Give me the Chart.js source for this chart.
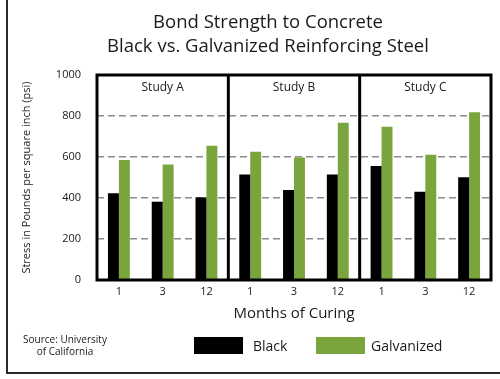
<!DOCTYPE html>
<html>
<head>
<meta charset="utf-8">
<script src="https://cdn.jsdelivr.net/npm/chart.js@4/dist/chart.umd.min.js"></script>
<style>
  html, body { margin: 0; padding: 0; background: #fff; }
  #wrap { position: relative; width: 500px; height: 379px; overflow: hidden; font-family: "Open Sans", sans-serif; color: #1a1a1a; }
  #c { position: absolute; left: 0; top: 0; }
  #frameL { position: absolute; left: 6px; top: 0; width: 2px; height: 374px; background: #2a2a2a; }
  #frameB { position: absolute; left: 6px; top: 372px; width: 494px; height: 2px; background: #2a2a2a; }
  #title { position: absolute; left: 68px; width: 400px; top: 9px; text-align: center; font-size: 18.5px; line-height: 24px; white-space: nowrap; }
  #source { position: absolute; left: 15px; width: 100px; top: 333px; text-align: center; font-size: 10px; line-height: 12px; white-space: nowrap; }
  .lg-box { position: absolute; top: 337px; width: 49px; height: 17px; }
  .lg-txt { position: absolute; top: 336px; font-size: 14px; line-height: 19px; white-space: nowrap; }
</style>
</head>
<body>
<div id="wrap">
  <canvas id="c" width="500" height="379"></canvas>
  <div id="frameL"></div>
  <div id="frameB"></div>
  <div id="title">Bond Strength to Concrete<br>Black vs. Galvanized Reinforcing Steel</div>
  <div id="source">Source: University<br>of California</div>
  <div id="legend"></div>
</div>
<script>
// ---- data ----
const months = ["1", "3", "12", "1", "3", "12", "1", "3", "12"];
const studies = ["Study A", "Study B", "Study C"];
const blackSteel = [423, 382, 403, 515, 439, 515, 556, 431, 501];
const galvanizedSteel = [585, 564, 655, 626, 598, 767, 748, 611, 818];
const yTicks = [0, 200, 400, 600, 800, 1000];
const seriesNames = ["Black", "Galvanized"];
const seriesColors = ["#000000", "#7aa43c"];

// ---- legend (HTML) ----
const legendPos = [{box: 194, txt: 253}, {box: 316, txt: 371}];
const legendEl = document.getElementById('legend');
seriesNames.forEach((n, i) => {
  const b = document.createElement('div');
  b.className = 'lg-box';
  b.style.left = legendPos[i].box + 'px';
  b.style.background = seriesColors[i];
  legendEl.appendChild(b);
  const t = document.createElement('div');
  t.className = 'lg-txt';
  t.style.left = legendPos[i].txt + 'px';
  t.textContent = n;
  legendEl.appendChild(t);
});

// ---- panel frame, dividers and headers ----
const panelPlugin = {
  id: 'panels',
  afterDatasetsDraw(chart) {
    const {ctx, chartArea: a, scales: {x}} = chart;
    ctx.save();
    ctx.strokeStyle = '#000';
    ctx.lineWidth = 3;
    ctx.strokeRect(a.left, a.top, a.right - a.left, a.bottom - a.top);
    const per = months.length / studies.length;
    const bounds = [a.left];
    for (let k = 1; k < studies.length; k++) {
      const xp = (x.getPixelForValue(k * per - 1) + x.getPixelForValue(k * per)) / 2;
      bounds.push(xp);
      ctx.beginPath();
      ctx.moveTo(xp, a.top);
      ctx.lineTo(xp, a.bottom);
      ctx.stroke();
    }
    bounds.push(a.right);
    ctx.fillStyle = '#1a1a1a';
    ctx.font = '12px "Open Sans"';
    ctx.textAlign = 'center';
    ctx.textBaseline = 'middle';
    studies.forEach((s, k) => {
      ctx.fillText(s, (bounds[k] + bounds[k + 1]) / 2, a.top + 13);
    });
    ctx.restore();
  }
};

new Chart(document.getElementById('c'), {
  type: 'bar',
  data: {
    labels: months,
    datasets: [
      {label: seriesNames[0], data: blackSteel, backgroundColor: seriesColors[0]},
      {label: seriesNames[1], data: galvanizedSteel, backgroundColor: seriesColors[1]}
    ]
  },
  options: {
    responsive: false,
    animation: false,
    devicePixelRatio: 1,
    layout: {padding: {left: 10, right: 9, top: 75, bottom: 49}},
    datasets: {bar: {categoryPercentage: 0.5, barPercentage: 1.0}},
    plugins: {legend: {display: false}, title: {display: false}, tooltip: {enabled: false}},
    scales: {
      x: {
        grid: {display: false, drawTicks: false},
        border: {display: false},
        ticks: {color: '#1a1a1a', font: {family: 'Open Sans', size: 11}, padding: 5, maxRotation: 0, autoSkip: false},
        title: {display: true, text: 'Months of Curing', color: '#1a1a1a', font: {family: 'Open Sans', size: 15}, padding: {top: 0, bottom: 7}},
        afterFit(s) { s.height = 50; }
      },
      y: {
        min: 0, max: 1000,
        afterBuildTicks(s) { s.ticks = yTicks.map(v => ({value: v})); },
        grid: {
          drawTicks: false,
          lineWidth: 1.5,
          color: c => (c.tick && c.tick.value > 0 && c.tick.value < 1000) ? '#8c8c8c' : 'rgba(0,0,0,0)'
        },
        border: {display: false, dash: [7, 4]},
        ticks: {color: '#1a1a1a', font: {family: 'Open Sans', size: 11}, padding: 16, callback: v => String(v)},
        title: {display: true, text: 'Stress in Pounds per square inch (psi)', color: '#1a1a1a', font: {family: 'Open Sans', size: 11}, padding: {top: 10, bottom: 0}},
        afterFit(s) { s.width = 87; }
      }
    }
  },
  plugins: [panelPlugin]
});
</script>
</body>
</html>
